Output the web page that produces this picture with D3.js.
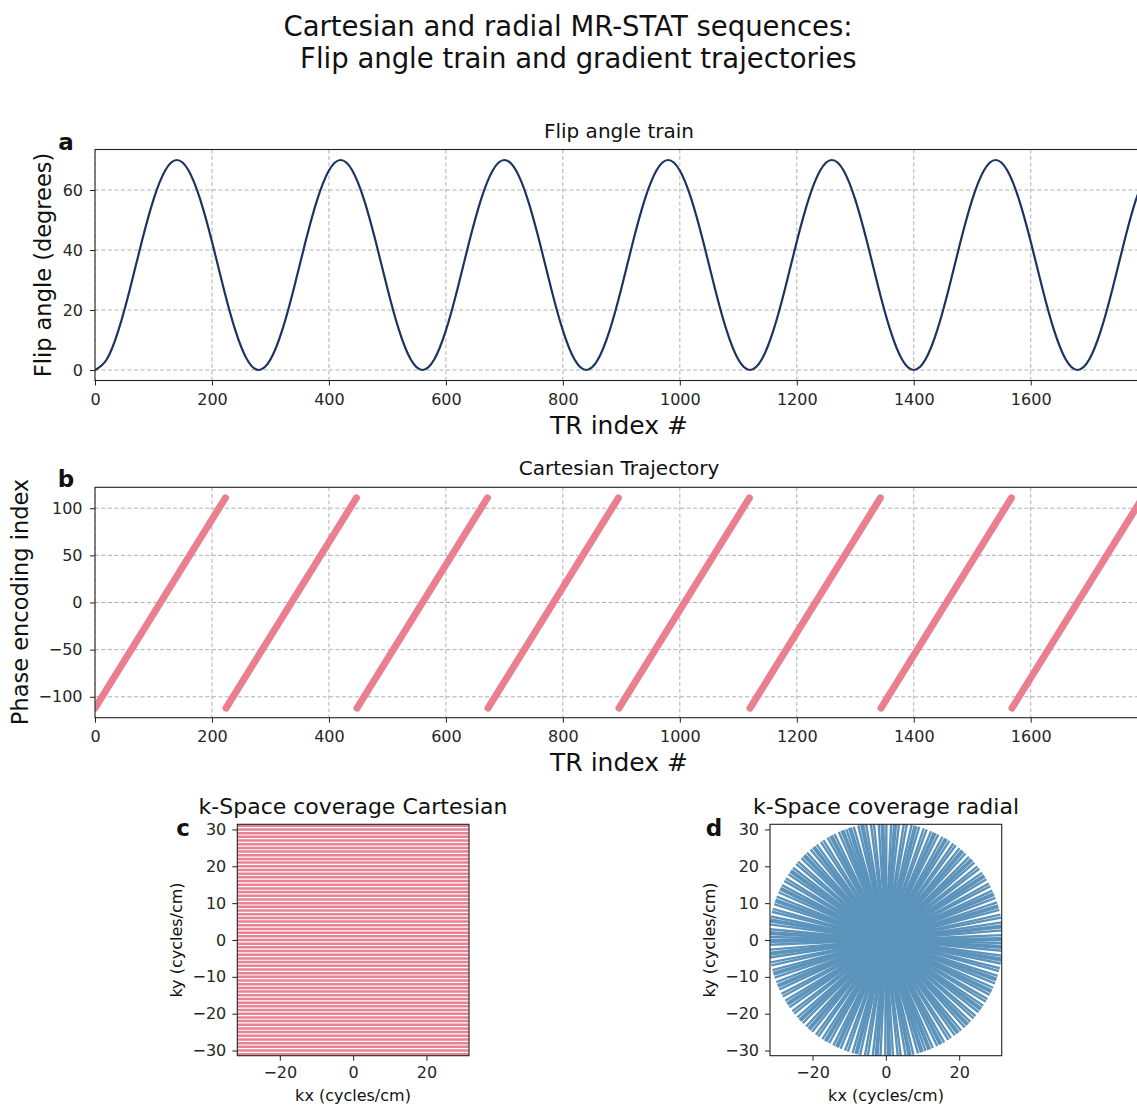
<!DOCTYPE html>
<html>
<head>
<meta charset="utf-8">
<script src="https://cdn.jsdelivr.net/npm/d3@7"></script>
<style>
  html, body { margin: 0; padding: 0; background: #fff; }
  svg { display: block; font-family: "DejaVu Sans", sans-serif; }
</style>
</head>
<body>
<svg id="chart" width="1137" height="1105"></svg>
<script>
// ---------------- DATA ----------------
const titleLines = ["Cartesian and radial MR-STAT sequences:", " Flip angle train and gradient trajectories"];

const trTicks = [0, 200, 400, 600, 800, 1000, 1200, 1400, 1600];
const trExtent = [0, 1792];

const flipStep = 20;
const flipAngle = [
  0, 3.5, 13.2, 27.2, 42.8, 56.8, 66.5, 70, 66.5, 56.8, 42.8, 27.2, 13.2, 3.5,
  0, 3.5, 13.2, 27.2, 42.8, 56.8, 66.5, 70, 66.5, 56.8, 42.8, 27.2, 13.2, 3.5,
  0, 3.5, 13.2, 27.2, 42.8, 56.8, 66.5, 70, 66.5, 56.8, 42.8, 27.2, 13.2, 3.5,
  0, 3.5, 13.2, 27.2, 42.8, 56.8, 66.5, 70, 66.5, 56.8, 42.8, 27.2, 13.2, 3.5,
  0, 3.5, 13.2, 27.2, 42.8, 56.8, 66.5, 70, 66.5, 56.8, 42.8, 27.2, 13.2, 3.5,
  0, 3.5, 13.2, 27.2, 42.8, 56.8, 66.5, 70, 66.5, 56.8, 42.8, 27.2, 13.2, 3.5,
  0, 3.5, 13.2, 27.2, 42.8, 56.8, 66.5
];
const flipTicks = [0, 20, 40, 60];

// Cartesian trajectory: each sweep from peRange[0] to peRange[1]
const segStarts = [0, 224, 448, 672, 896, 1120, 1344, 1568];
const segLength = 223;
const peRange = [-112, 111];
const peTicks = [-100, -50, 0, 50, 100];

// k-space
const kTicksY = [-30, -20, -10, 0, 10, 20, 30];
const kTicksX = [-20, 0, 20];
const kyLines = [-31,-30,-29,-28,-27,-26,-25,-24,-23,-22,-21,-20,-19,-18,-17,-16,-15,-14,-13,-12,-11,-10,-9,-8,-7,-6,-5,-4,-3,-2,-1,0,1,2,3,4,5,6,7,8,9,10,11,12,13,14,15,16,17,18,19,20,21,22,23,24,25,26,27,28,29,30,31];
const kxSpan = [-32, 32];
const kRadius = 32;
const spokeAngles = [
  0, 111.25, 42.49, 153.74, 84.98, 16.23, 127.48, 58.72, 169.97, 101.22,
  32.46, 143.71, 74.95, 6.20, 117.45, 48.69, 159.94, 91.19, 22.43, 133.68,
  64.92, 176.17, 107.42, 38.66, 149.91, 81.15, 12.40, 123.65, 54.89, 166.14,
  97.38, 28.63, 139.88, 71.12, 2.37, 113.62, 44.86, 156.11, 87.35, 18.60,
  129.85, 61.09, 172.34, 103.58, 34.83, 146.08, 77.32, 8.57, 119.81, 51.06,
  162.31, 93.55, 24.80, 136.04, 67.29, 178.54, 109.78, 41.03, 152.27, 83.52,
  14.77, 126.01, 57.26, 168.50, 99.75, 31.00, 142.24, 73.49, 4.73, 115.98,
  47.22, 158.47, 89.72, 20.96, 132.21, 63.45, 174.70, 105.94, 37.19, 148.44,
  79.68, 10.93, 122.17, 53.42, 164.67, 95.91, 27.16, 138.40, 69.65, 0.89,
  112.14, 43.39, 154.63, 85.88, 17.12, 128.37, 59.62, 170.86, 102.11, 33.35,
  144.60, 75.84, 7.09, 118.34, 49.58, 160.83, 92.07, 23.32, 134.57, 65.81,
  177.06, 108.31
];

// ---------------- DRAW ----------------
const svg = d3.select("#chart");
svg.append("rect").attr("width", 1137).attr("height", 1105).attr("fill", "#fff");
const fmt = d3.format("d");
const tickColor = "#262626";
const spineColor = "#222";

// title (single text, two lines)
const title = svg.append("text").attr("font-size", 27.5).attr("fill", "#111")
  .attr("text-anchor", "middle").attr("xml:space", "preserve").style("white-space", "pre");
title.append("tspan").attr("x", 568).attr("y", 36).text(titleLines[0]);
title.append("tspan").attr("x", 574).attr("y", 68).text(titleLines[1]);

let clipId = 0;
function panel(opts) {
  const g = svg.append("g");
  const x = d3.scaleLinear().domain(opts.xDomain).range([opts.left, opts.right]);
  const y = d3.scaleLinear().domain(opts.yDomain).range([opts.bottom, opts.top]);
  const id = "clip" + (clipId++);
  g.append("clipPath").attr("id", id).append("rect")
    .attr("x", opts.left).attr("y", opts.top)
    .attr("width", opts.right - opts.left).attr("height", opts.bottom - opts.top);
  if (opts.grid) {
    const gg = g.append("g").attr("stroke", "#b0b0b0").attr("stroke-width", 1)
      .attr("stroke-dasharray", "4,2.5").attr("clip-path", `url(#${id})`);
    opts.xTicks.forEach(t => gg.append("line").attr("x1", x(t)).attr("x2", x(t))
      .attr("y1", opts.top).attr("y2", opts.bottom));
    opts.yTicks.forEach(t => gg.append("line").attr("y1", y(t)).attr("y2", y(t))
      .attr("x1", opts.left).attr("x2", opts.right));
  }
  const plot = g.append("g").attr("clip-path", `url(#${id})`);
  const xa = g.append("g").attr("transform", `translate(0,${opts.bottom})`)
    .call(d3.axisBottom(x).tickValues(opts.xTicks).tickFormat(fmt).tickSize(5).tickPadding(opts.xPad));
  const ya = g.append("g").attr("transform", `translate(${opts.left},0)`)
    .call(d3.axisLeft(y).tickValues(opts.yTicks).tickFormat(fmt).tickSize(5).tickPadding(opts.yPad));
  [xa, ya].forEach(a => {
    a.select(".domain").remove();
    a.selectAll(".tick line").attr("stroke", spineColor).attr("stroke-width", 1);
    a.selectAll(".tick text").attr("fill", tickColor).attr("font-size", opts.tickFont)
      .attr("font-family", "DejaVu Sans");
  });
  return { g, x, y, plot, opts };
}
function spines(p) {
  const o = p.opts;
  p.g.append("rect").attr("x", o.left).attr("y", o.top)
    .attr("width", o.right - o.left).attr("height", o.bottom - o.top)
    .attr("fill", "none").attr("stroke", spineColor).attr("stroke-width", 1.1);
}
function label(txt, xp, yp, size, rotate, weight) {
  const t = svg.append("text").attr("text-anchor", "middle")
    .attr("dominant-baseline", "central").attr("font-size", size).attr("fill", "#111")
    .attr("font-weight", weight || "normal").text(txt);
  if (rotate) t.attr("transform", `translate(${xp},${yp}) rotate(-90)`);
  else t.attr("x", xp).attr("y", yp);
  return t;
}

// ---- Panel a
const pa = panel({ left: 95, right: 1143, top: 149.5, bottom: 380.5,
  xDomain: trExtent, yDomain: [-3.5, 73.5], xTicks: trTicks, yTicks: flipTicks,
  grid: true, tickFont: 16, xPad: 8, yPad: 7 });
pa.plot.append("path").datum(flipAngle)
  .attr("d", d3.line().x((d, i) => pa.x(i * flipStep)).y(d => pa.y(d)).curve(d3.curveNatural))
  .attr("fill", "none").attr("stroke", "#1c3461").attr("stroke-width", 2.2);
spines(pa);
label("Flip angle train", 619, 131, 20);
label("TR index #", 619, 425, 25);
label("Flip angle (degrees)", 43, 265, 22.5, true);
label("a", 66, 142, 23, false, "bold");

// ---- Panel b
const pb = panel({ left: 95, right: 1143, top: 487.3, bottom: 717.7,
  xDomain: trExtent, yDomain: [-122.2, 122.2], xTicks: trTicks, yTicks: peTicks,
  grid: true, tickFont: 16, xPad: 8, yPad: 7.5 });
pb.plot.selectAll("line.seg").data(segStarts).enter().append("line")
  .attr("x1", d => pb.x(d)).attr("y1", pb.y(peRange[0]))
  .attr("x2", d => pb.x(d + segLength)).attr("y2", pb.y(peRange[1]))
  .attr("stroke", "#e97f8f").attr("stroke-width", 7).attr("stroke-linecap", "round");
spines(pb);
label("Cartesian Trajectory", 619, 468, 20);
label("TR index #", 619, 762, 25);
label("Phase encoding index", 20, 602, 22.5, true);
label("b", 66, 479, 23, false, "bold");

// ---- Panel c
const pc = panel({ left: 237.3, right: 469, top: 824.3, bottom: 1055.7,
  xDomain: [-31.6, 31.6], yDomain: [-31.4, 31.4], xTicks: kTicksX, yTicks: kTicksY,
  grid: false, tickFont: 16, xPad: 5.5, yPad: 6 });
pc.plot.selectAll("line.ky").data(kyLines).enter().append("line")
  .attr("x1", pc.x(kxSpan[0])).attr("x2", pc.x(kxSpan[1]))
  .attr("y1", d => pc.y(d)).attr("y2", d => pc.y(d))
  .attr("stroke", "#e98292").attr("stroke-width", 2.5);
spines(pc);
label("k-Space coverage Cartesian", 353, 806, 22);
label("kx (cycles/cm)", 353, 1095, 16);
label("ky (cycles/cm)", 176, 940, 16, true);
label("c", 183, 828, 23, false, "bold");

// ---- Panel d
const pd = panel({ left: 770, right: 1001.7, top: 824.3, bottom: 1055.7,
  xDomain: [-31.6, 31.6], yDomain: [-31.4, 31.4], xTicks: kTicksX, yTicks: kTicksY,
  grid: false, tickFont: 16, xPad: 5.5, yPad: 6 });
pd.plot.selectAll("line.spoke").data(spokeAngles).enter().append("line")
  .attr("x1", d => pd.x(-kRadius * Math.cos(d * Math.PI / 180)))
  .attr("y1", d => pd.y(-kRadius * Math.sin(d * Math.PI / 180)))
  .attr("x2", d => pd.x(kRadius * Math.cos(d * Math.PI / 180)))
  .attr("y2", d => pd.y(kRadius * Math.sin(d * Math.PI / 180)))
  .attr("stroke", "#5b93bb").attr("stroke-width", 2.4);
spines(pd);
label("k-Space coverage radial", 886, 806, 22);
label("kx (cycles/cm)", 886, 1095, 16);
label("ky (cycles/cm)", 709, 940, 16, true);
label("d", 714, 828, 23, false, "bold");
</script>
</body>
</html>
